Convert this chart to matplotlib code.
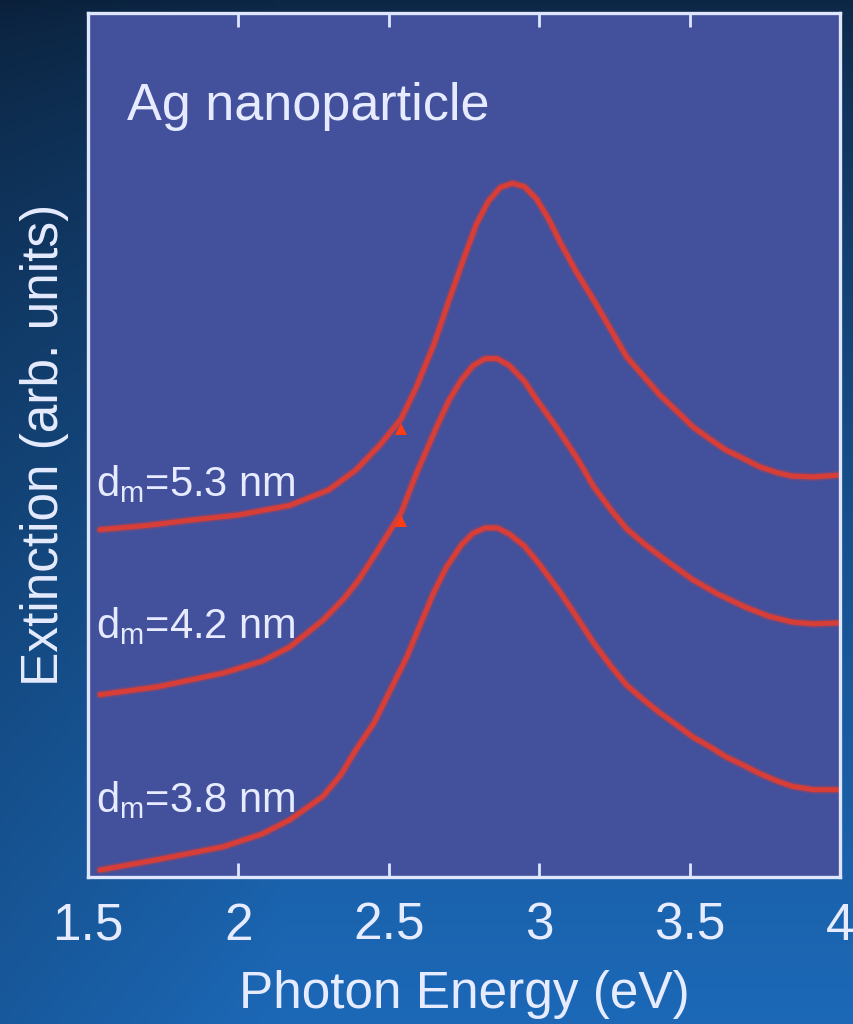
import numpy as np
import matplotlib
matplotlib.use("Agg")
import matplotlib.pyplot as plt
import matplotlib.patheffects as pe

# 字体
plt.rcParams['font.family'] = ['Liberation Sans', 'DejaVu Sans']
plt.rcParams['mathtext.fontset'] = 'custom'
plt.rcParams['mathtext.rm'] = 'Liberation Sans'

# 三条消光谱 (光子能量 eV, 任意单位)
x_53 = [1.54, 1.70, 1.84, 2.00, 2.17, 2.30, 2.39, 2.47, 2.54, 2.59, 2.65, 2.70, 2.75,
        2.79, 2.83, 2.87, 2.91, 2.95, 2.99, 3.03, 3.07, 3.12, 3.18, 3.24, 3.29, 3.35,
        3.40, 3.46, 3.51, 3.57, 3.62, 3.68, 3.73, 3.79, 3.84, 3.91, 3.99]
y_53 = [0.402, 0.407, 0.413, 0.419, 0.430, 0.448, 0.471, 0.500, 0.530, 0.566, 0.617, 0.668, 0.717,
        0.755, 0.782, 0.798, 0.803, 0.799, 0.785, 0.762, 0.734, 0.702, 0.668, 0.632, 0.602, 0.578,
        0.558, 0.538, 0.521, 0.506, 0.494, 0.484, 0.475, 0.468, 0.464, 0.463, 0.465]

x_42 = [1.54, 1.73, 1.95, 2.08, 2.17, 2.28, 2.35, 2.40, 2.47, 2.54, 2.59, 2.66, 2.70,
        2.74, 2.78, 2.82, 2.86, 2.90, 2.95, 2.99, 3.06, 3.13, 3.18, 3.24, 3.29, 3.35,
        3.43, 3.51, 3.59, 3.68, 3.76, 3.84, 3.91, 3.99]
y_42 = [0.211, 0.220, 0.236, 0.250, 0.266, 0.297, 0.322, 0.344, 0.382, 0.421, 0.466, 0.522, 0.552,
        0.575, 0.592, 0.600, 0.600, 0.592, 0.574, 0.553, 0.519, 0.482, 0.452, 0.424, 0.403, 0.385,
        0.364, 0.344, 0.328, 0.313, 0.302, 0.295, 0.293, 0.294]

x_38 = [1.54, 1.73, 1.95, 2.08, 2.17, 2.28, 2.34, 2.39, 2.45, 2.50, 2.56, 2.61, 2.65,
        2.69, 2.74, 2.78, 2.82, 2.86, 2.90, 2.95, 3.00, 3.07, 3.12, 3.18, 3.24, 3.29,
        3.35, 3.40, 3.46, 3.51, 3.57, 3.62, 3.68, 3.73, 3.79, 3.84, 3.91, 3.99]
y_38 = [0.008, 0.020, 0.035, 0.050, 0.066, 0.093, 0.118, 0.147, 0.178, 0.213, 0.255, 0.297, 0.330,
        0.358, 0.384, 0.398, 0.404, 0.404, 0.397, 0.383, 0.362, 0.329, 0.303, 0.271, 0.243, 0.222,
        0.204, 0.190, 0.175, 0.162, 0.150, 0.139, 0.129, 0.120, 0.111, 0.105, 0.101, 0.101]

# 曲线上的小箭头
arrow_x = [2.54, 2.54]
arrow_y = [0.518, 0.412]

labels = [r'd$_\mathregular{m}$=5.3 nm', r'd$_\mathregular{m}$=4.2 nm', r'd$_\mathregular{m}$=3.8 nm']
label_y = [0.441, 0.277, 0.075]
xticks = [1.5, 2, 2.5, 3, 3.5, 4]
xticklabels = ['1.5', '2', '2.5', '3', '3.5', '4']

fig = plt.figure(figsize=(8.54, 10.24), dpi=100)

# 背景渐变：上深下亮
bg = fig.add_axes([0, 0, 1, 1], zorder=0)
rows = np.linspace(0, 1, 256)[:, None]
cols = np.linspace(0, 1, 256)[None, :]
top = np.array([0.05, 0.15, 0.27])
bottom = np.array([0.11, 0.41, 0.72])
img = top + (bottom - top) * (rows[..., None] ** 0.7)
img = img * (0.85 + 0.15 * np.clip(cols[..., None] * 3, 0, 1))
bg.imshow(np.clip(img, 0, 1), aspect='auto', extent=[0, 1, 0, 1], origin='upper')
bg.axis('off')

ax = fig.add_axes([0.103, 0.1436, 0.881, 0.8437], zorder=1)
ax.set_facecolor('#43509c')

red = '#d63e37'
glow = [pe.Stroke(linewidth=6, foreground=red, alpha=0.3), pe.Normal()]
for xs, ys in [(x_53, y_53), (x_42, y_42), (x_38, y_38)]:
    ax.plot(xs, ys, color=red, lw=3.6, solid_capstyle='round', solid_joinstyle='round',
            path_effects=glow)
ax.plot(arrow_x, arrow_y, ls='none', marker='^', ms=9, color='#ff3c12', mew=0)

txt = '#e6ebff'
for lab, ly in zip(labels, label_y):
    ax.text(1.527, ly, lab, color=txt, fontsize=30, va='baseline', ha='left')
ax.text(1.63, 0.876, 'Ag nanoparticle', color=txt, fontsize=37.5, va='baseline', ha='left')

ax.set_xlim(1.5, 4)
ax.set_ylim(0, 1)
ax.set_xticks(xticks)
ax.set_xticklabels(xticklabels)
ax.set_yticks([])
ax.tick_params(axis='x', direction='in', length=10, width=2, color='#dfe6ff',
               top=True, labelsize=37, labelcolor=txt, pad=18)
for s in ax.spines.values():
    s.set_color('#dfe6ff')
    s.set_linewidth(2.4)

ax.set_xlabel('Photon Energy (eV)', fontsize=37, color=txt, labelpad=14)
ax.set_ylabel('Extinction (arb. units)', fontsize=37, color=txt, labelpad=14)

fig.savefig('out.png', dpi=100)
